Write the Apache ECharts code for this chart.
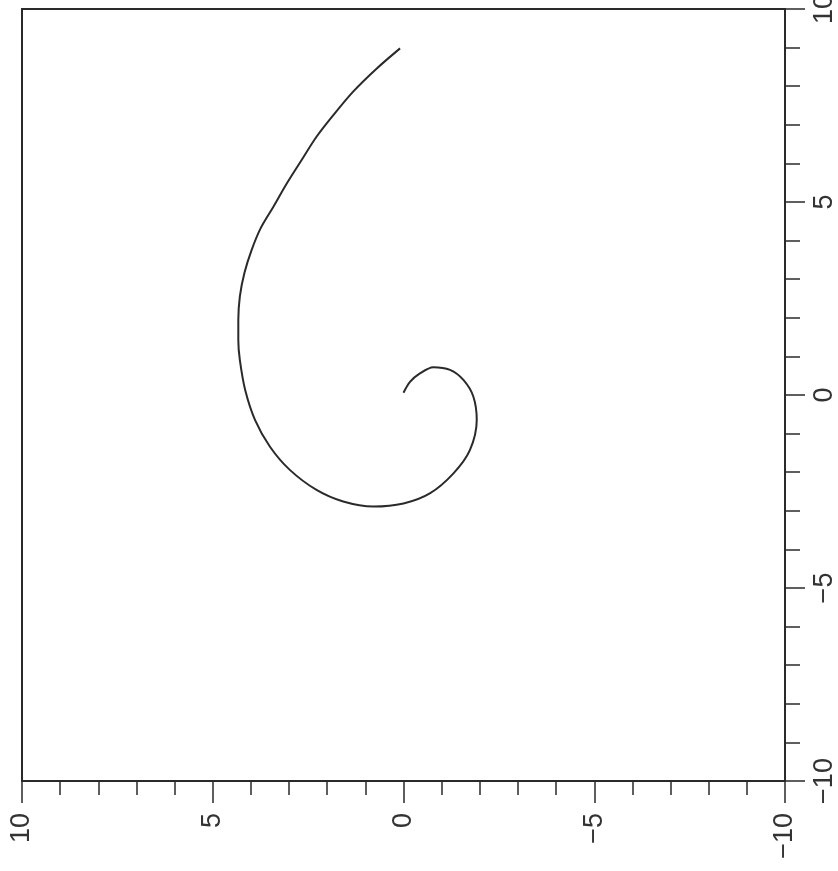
<!DOCTYPE html>
<html>
<head>
<meta charset="utf-8">
<script src="https://cdn.jsdelivr.net/npm/echarts@6/dist/echarts.min.js"></script>
<style>
  html, body { margin: 0; padding: 0; background: #fff; }
  #chart { width: 838px; height: 871px; }
</style>
</head>
<body>
<div id="chart"></div>
<script>
// Spiral trajectory: horizontal-axis value (u) and vertical-axis value (v)
const uValues = [0.00, -0.17, -0.43, -0.78, -1.22, -1.57, -1.83, -1.92, -1.74, -1.31,
                 -0.69, 0.00, 0.79, 1.58, 2.28, 2.98, 3.50, 3.89, 4.15, 4.29,
                 4.33, 4.33, 4.29, 4.17, 3.98, 3.74, 3.41, 3.06, 2.67, 2.28,
                 1.84, 1.32, 0.70, 0.09];
const vValues = [0.06, 0.34, 0.56, 0.72, 0.65, 0.39, -0.04, -0.65, -1.43, -2.03,
                 -2.55, -2.81, -2.89, -2.76, -2.46, -1.94, -1.34, -0.65, 0.13, 0.91,
                 1.42, 1.94, 2.55, 3.16, 3.76, 4.33, 4.88, 5.48, 6.09, 6.69,
                 7.25, 7.86, 8.46, 8.98];

const axisMin = -10;
const axisMax = 10;
const labelStep = 5;

const points = uValues.map((u, i) => [u, vValues[i]]);

const ink = '#2a2a2a';
const labelFont = { fontFamily: 'Liberation Sans, Arial, sans-serif', fontSize: 27, color: '#333' };
const minus = v => String(v).replace('-', '−');

const chart = echarts.init(document.getElementById('chart'), null, { renderer: 'canvas' });
chart.setOption({
  backgroundColor: '#ffffff',
  animation: false,
  grid: {
    left: 22, right: 53, top: 9, bottom: 90,
    containLabel: false,
    outerBoundsMode: 'none',
    show: true, borderColor: ink, borderWidth: 2, backgroundColor: 'transparent'
  },
  xAxis: {
    type: 'value', min: axisMin, max: axisMax, interval: labelStep, inverse: true,
    position: 'bottom',
    axisLine: { show: true, onZero: false, lineStyle: { color: ink, width: 2 } },
    axisTick: { show: true, inside: false, length: 22, lineStyle: { color: ink, width: 1.5 } },
    minorTick: { show: true, splitNumber: 5, length: 14, lineStyle: { color: ink, width: 1.5 } },
    splitLine: { show: false },
    axisLabel: Object.assign({ rotate: 90, margin: 32, formatter: minus }, labelFont)
  },
  yAxis: {
    type: 'value', min: axisMin, max: axisMax, interval: labelStep,
    position: 'right',
    axisLine: { show: true, onZero: false, lineStyle: { color: ink, width: 2 } },
    axisTick: { show: true, inside: false, length: 20, lineStyle: { color: ink, width: 1.5 } },
    minorTick: { show: true, splitNumber: 5, length: 15, lineStyle: { color: ink, width: 1.5 } },
    splitLine: { show: false },
    axisLabel: Object.assign({ rotate: 90, margin: 26, formatter: minus }, labelFont)
  },
  series: [{
    type: 'line',
    data: points,
    smooth: 0.3,
    showSymbol: false,
    lineStyle: { color: ink, width: 2 }
  }]
});
</script>
</body>
</html>
